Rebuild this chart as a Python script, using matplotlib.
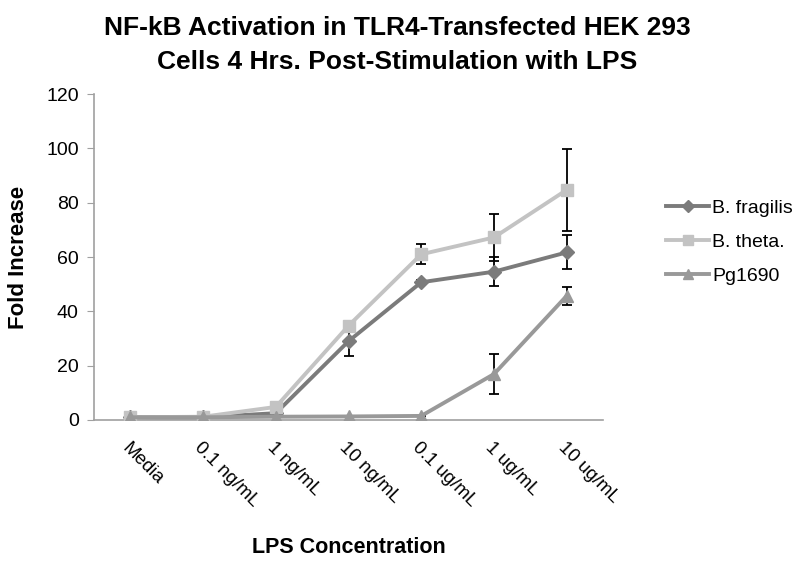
import matplotlib
matplotlib.use("Agg")
import matplotlib.pyplot as plt
import numpy as np

categories = ["Media", "0.1 ng/mL", "1 ng/mL", "10 ng/mL", "0.1 ug/mL", "1 ug/mL", "10 ug/mL"]

fragilis = [1.0, 1.0, 2.5, 29.0, 50.7, 54.6, 61.7]
fragilis_err = [0, 0, 0, 5.3, 0.8, 5.3, 6.3]
theta = [1.0, 1.2, 4.8, 34.7, 61.0, 67.2, 84.7]
theta_err = [0, 0, 0, 0, 3.7, 8.6, 15.0]
pg1690 = [1.0, 1.0, 1.2, 1.3, 1.5, 16.9, 45.7]
pg1690_err = [0, 0, 0, 0, 0, 7.5, 3.3]

plt.rcParams['font.family'] = ['Liberation Sans', 'DejaVu Sans']

fig = plt.figure(figsize=(8, 5.62), dpi=100)
ax = fig.add_axes([0.1175, 0.2527, 0.6363, 0.58])
x = np.arange(len(categories))

series = [
    ("B. fragilis", fragilis, fragilis_err, "#7b7b7b", "D", 7),
    ("B. theta.", theta, theta_err, "#c3c3c3", "s", 8),
    ("Pg1690", pg1690, pg1690_err, "#999999", "^", 9),
]
for name, vals, err, col, mk, ms in series:
    ax.errorbar(x, vals, yerr=err, color=col, marker=mk, markersize=ms, linewidth=2.8,
                ecolor="black", elinewidth=1.3, capsize=3.5, capthick=1.3, label=name,
                zorder=3)

ax.set_xlim(-0.5, len(categories) - 0.5)
ax.set_ylim(0, 120)
ax.set_yticks(range(0, 121, 20))
ax.set_xticks(x)
ax.set_xticklabels(categories, rotation=-45, ha="left", rotation_mode="anchor")
ax.tick_params(axis="x", length=0, pad=14, labelsize=13.5)
ax.tick_params(axis="y", length=5, color="#a0a0a0", labelsize=14, pad=6)
for s in ["top", "right"]:
    ax.spines[s].set_visible(False)
for s in ["left", "bottom"]:
    ax.spines[s].set_color("#a0a0a0")
    ax.spines[s].set_linewidth(1.2)

ax.set_ylabel("Fold Increase", fontsize=16, fontweight="bold", labelpad=12)
ax.set_xlabel("LPS Concentration", fontsize=15.5, fontweight="bold", labelpad=19)
fig.suptitle("NF-kB Activation in TLR4-Transfected HEK 293\nCells 4 Hrs. Post-Stimulation with LPS",
             fontsize=19, fontweight="bold", y=0.972, x=0.497, linespacing=1.55)

handles, labels = ax.get_legend_handles_labels()
handles = [h[0] for h in handles]
ax.legend(handles, labels, loc="center left", bbox_to_anchor=(1.09, 0.545), frameon=False,
          fontsize=14, handlelength=2.2, handletextpad=0.15, labelspacing=0.85,
          markerscale=0.85)

fig.savefig("out.png", dpi=100)
